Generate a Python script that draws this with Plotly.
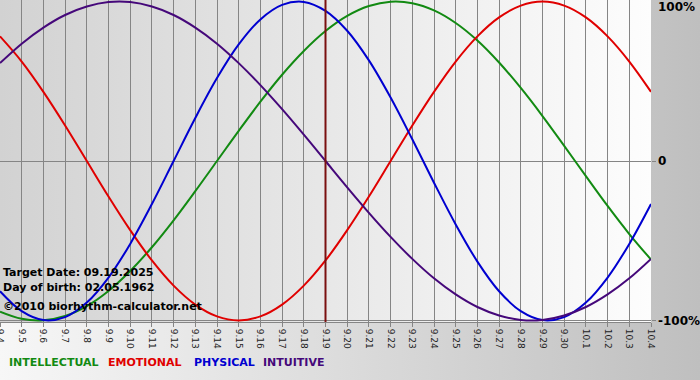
import base64
import plotly.graph_objects as go

# ---- data ----
tick_labels = ["9.4", "9.5", "9.6", "9.7", "9.8", "9.9", "9.10", "9.11", "9.12", "9.13",
               "9.14", "9.15", "9.16", "9.17", "9.18", "9.19", "9.20", "9.21", "9.22", "9.23",
               "9.24", "9.25", "9.26", "9.27", "9.28", "9.29", "9.30", "10.1", "10.2", "10.3", "10.4"]
days = list(range(len(tick_labels)))

intellectual = [-0.945, -0.990, -0.999, -0.972, -0.910, -0.815, -0.690, -0.541, -0.372, -0.189,
                0.000, 0.189, 0.372, 0.541, 0.690, 0.815, 0.910, 0.972, 0.999, 0.990,
                0.945, 0.866, 0.756, 0.618, 0.458, 0.282, 0.095, -0.095, -0.282, -0.458, -0.618]
emotional = [0.782, 0.624, 0.434, 0.223, 0.000, -0.223, -0.434, -0.624, -0.782, -0.901,
             -0.975, -1.000, -0.975, -0.901, -0.782, -0.624, -0.434, -0.223, 0.000, 0.223,
             0.434, 0.624, 0.782, 0.901, 0.975, 1.000, 0.975, 0.901, 0.782, 0.624, 0.434]
physical = [-0.817, -0.942, -0.998, -0.979, -0.888, -0.731, -0.520, -0.270, 0.000, 0.270,
            0.520, 0.731, 0.888, 0.979, 0.998, 0.942, 0.817, 0.631, 0.398, 0.136,
            -0.136, -0.398, -0.631, -0.817, -0.942, -0.998, -0.979, -0.888, -0.731, -0.520, -0.270]
intuitive = [0.614, 0.736, 0.837, 0.916, 0.969, 0.997, 0.997, 0.969, 0.916, 0.837,
             0.736, 0.614, 0.476, 0.325, 0.165, 0.000, -0.165, -0.325, -0.476, -0.614,
             -0.736, -0.837, -0.916, -0.969, -0.997, -0.997, -0.969, -0.916, -0.837, -0.736, -0.614]

series_names = ["INTELLECTUAL", "EMOTIONAL", "PHYSICAL", "INTUITIVE"]
series_colors = ["#128a12", "#e00000", "#0000d0", "#45087a"]
target_index = 15
info_lines = ["Target Date: 09.19.2025", "Day of birth: 02.05.1962", "©2010 biorhythm-calculator.net"]
y_labels = ["100%", "0", "-100%"]

# ---- layout geometry ----
W, H = 700, 380
ML, MR, MT, MB = 0, 49, 0, 58
PW, PH = W - ML - MR, H - MT - MB


def grad_svg(w, h, c0, c1):
    svg = (f'<svg xmlns="http://www.w3.org/2000/svg" width="{w}" height="{h}">'
           f'<defs><linearGradient id="g" x1="0" x2="1" y1="0" y2="0">'
           f'<stop offset="0" stop-color="{c0}"/><stop offset="1" stop-color="{c1}"/>'
           f'</linearGradient></defs><rect width="{w}" height="{h}" fill="url(#g)"/></svg>')
    return "data:image/svg+xml;base64," + base64.b64encode(svg.encode()).decode()


fig = go.Figure()
for name, vals, col in zip(series_names, [intellectual, emotional, physical, intuitive], series_colors):
    fig.add_trace(go.Scatter(x=days, y=vals, mode="lines", name=name,
                             line=dict(color=col, width=2, shape="spline", smoothing=1),
                             hoverinfo="skip"))

fig.add_shape(type="line", xref="x", yref="paper", x0=target_index, x1=target_index, y0=0, y1=1,
              line=dict(color="#7a1010", width=2), layer="above", opacity=1)

images = [
    dict(source=grad_svg(W, H, "#f7f7f7", "#bfbfbf"), xref="paper", yref="paper",
         x=-ML / PW, y=1 + MT / PH, sizex=W / PW, sizey=H / PH, xanchor="left", yanchor="top",
         sizing="stretch", layer="below"),
    dict(source=grad_svg(PW, PH, "#d2d2d2", "#fdfdfd"), xref="paper", yref="paper",
         x=0, y=1, sizex=1, sizey=1, xanchor="left", yanchor="top",
         sizing="stretch", layer="below"),
]

annotations = []
for txt, yc in zip(info_lines, [272, 287, 306.5]):
    annotations.append(dict(text=txt, xref="paper", yref="paper", x=1 / PW, y=1 - yc / PH,
                            xanchor="left", yanchor="middle", showarrow=False,
                            font=dict(family="DejaVu Sans", size=11, color="#000000", weight="bold")))
for name, col, xp in zip(series_names, series_colors, [7, 106, 192, 261]):
    annotations.append(dict(text=name, xref="paper", yref="paper", x=xp / PW, y=1 - 362 / PH,
                            xanchor="left", yanchor="middle", showarrow=False,
                            font=dict(family="DejaVu Sans", size=11, color=col, weight="bold")))
for txt, yc in zip(y_labels, [7, 161, 321]):
    annotations.append(dict(text=txt, xref="paper", yref="paper", x=656 / PW, y=1 - yc / PH,
                            xanchor="left", yanchor="middle", showarrow=False,
                            font=dict(family="DejaVu Sans", size=12, color="#000000", weight="bold")))

fig.update_layout(
    width=W, height=H, margin=dict(l=ML, r=MR, t=MT, b=MB, pad=0, autoexpand=False),
    paper_bgcolor="#ffffff", plot_bgcolor="rgba(0,0,0,0)",
    showlegend=False, images=images, annotations=annotations,
    xaxis=dict(range=[0, len(days) - 1], tickmode="array", tickvals=days, ticktext=tick_labels,
               tickangle=90, showgrid=True, gridcolor="#858585", gridwidth=1,
               ticks="outside", ticklen=4, tickcolor="#858585", showline=True, linecolor="#858585",
               zeroline=False, tickfont=dict(family="DejaVu Sans", size=9, color="#222222"),
               ticklabeloverflow="allow", automargin=False, fixedrange=True),
    yaxis=dict(range=[-1.01, 1.01], side="right", tickmode="array", tickvals=[-1, 0],
               showgrid=True, gridcolor="#858585", gridwidth=1, ticks="outside", ticklen=4,
               tickcolor="#858585", showticklabels=False, zeroline=False, showline=False,
               automargin=False, fixedrange=True),
)

fig.write_html("out.html", config={"displayModeBar": False},
               post_script="document.body.style.margin='0';document.body.style.padding='0';")
